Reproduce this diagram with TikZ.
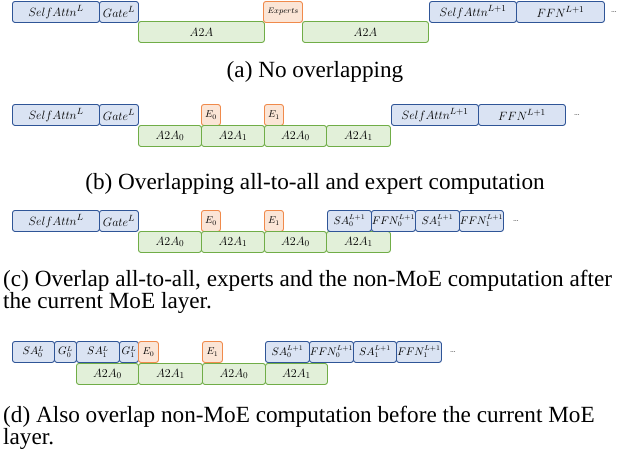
\documentclass[tikz,border=0pt]{standalone}
\usepackage{fontspec}
\newfontfamily\capfont{Liberation Serif}
\definecolor{bluefill}{HTML}{DAE3F3}
\definecolor{blueline}{HTML}{2F5597}
\definecolor{greenfill}{HTML}{E2F0D9}
\definecolor{greenline}{HTML}{70AD47}
\definecolor{orangefill}{HTML}{FBE5D6}
\definecolor{orangeline}{HTML}{F08A4B}

\begin{document}
\begin{tikzpicture}[x=1pt,y=-1pt,
    box/.style={rounded corners=2.5pt, line width=0.9pt, inner sep=0pt, anchor=north west,
        minimum height=21pt, font=\fontsize{12.5}{14}\selectfont},
    attn/.style={box, draw=blueline, fill=bluefill},
    small/.style={font=\fontsize{10.5}{12}\selectfont},
    comm/.style={box, draw=greenline, fill=greenfill},
    expt/.style={box, draw=orangeline, fill=orangefill, font=\fontsize{10}{11}\selectfont},
    more/.style={inner sep=0pt, font=\fontsize{9}{10}\selectfont},
    subcap/.style={inner sep=0pt, font=\capfont\fontsize{23.2}{22}\selectfont}]

    \useasboundingbox (0,0) rectangle (630,458);

    % (a) no overlapping
    \node[attn, minimum width=87pt] (saa) at (12,1) {$SelfAttn^{L}$};
    \node[attn, minimum width=39pt] (gatea) at (99,1) {$Gate^{L}$};
    \node[comm, minimum width=126pt] (disa) at (138,21) {$A2A$};
    \node[expt, minimum width=39pt, font=\fontsize{8.5}{10}\selectfont] (expa) at (263,1) {$Experts$};
    \node[comm, minimum width=126pt] (comba) at (302,21) {$A2A$};
    \node[attn, minimum width=87pt] (sanexta) at (429,1) {$SelfAttn^{L+1}$};
    \node[attn, minimum width=88pt] (ffnnexta) at (516,1) {$FFN^{L+1}$};
    \node[more] (dotsa) at (614,12) {\ldots};
    \node[subcap, anchor=base] (capa) at (315,77) {(a) No overlapping};

    % (b) overlapping all-to-all and experts
    \node[attn, minimum width=87pt] (sab) at (12,104) {$SelfAttn^{L}$};
    \node[attn, minimum width=39pt] (gateb) at (99,104) {$Gate^{L}$};
    \node[expt, minimum width=19pt] (expb0) at (201,104) {$E_{0}$};
    \node[expt, minimum width=19pt] (expb1) at (264,104) {$E_{1}$};
    \node[comm, minimum width=63pt] (disb0) at (138,125) {$A2A_{0}$};
    \node[comm, minimum width=63pt] (disb1) at (201,125) {$A2A_{1}$};
    \node[comm, minimum width=62pt] (combb0) at (264,125) {$A2A_{0}$};
    \node[comm, minimum width=64pt] (combb1) at (326,125) {$A2A_{1}$};
    \node[attn, minimum width=87pt] (sanextb) at (391,104) {$SelfAttn^{L+1}$};
    \node[attn, minimum width=87pt] (ffnnextb) at (478,104) {$FFN^{L+1}$};
    \node[more] (dotsb) at (577,115) {\ldots};
    \node[subcap, anchor=base] (capb) at (315,189) {(b) Overlapping all-to-all and expert computation};

    % (c) overlap with the next layer too
    \node[attn, minimum width=87pt] (sac) at (12,210) {$SelfAttn^{L}$};
    \node[attn, minimum width=39pt] (gatec) at (99,210) {$Gate^{L}$};
    \node[expt, minimum width=19pt] (expc0) at (201,210) {$E_{0}$};
    \node[expt, minimum width=19pt] (expc1) at (264,210) {$E_{1}$};
    \node[comm, minimum width=63pt] (disc0) at (138,231) {$A2A_{0}$};
    \node[comm, minimum width=63pt] (disc1) at (201,231) {$A2A_{1}$};
    \node[comm, minimum width=62pt] (combc0) at (264,231) {$A2A_{0}$};
    \node[comm, minimum width=64pt] (combc1) at (326,231) {$A2A_{1}$};
    \node[attn, small, minimum width=44pt] (sanextc0) at (327,210) {$SA_{0}^{L+1}$};
    \node[attn, small, minimum width=44pt] (ffnnextc0) at (371,210) {$FFN_{0}^{L+1}$};
    \node[attn, small, minimum width=44pt] (sanextc1) at (415,210) {$SA_{1}^{L+1}$};
    \node[attn, small, minimum width=44pt] (ffnnextc1) at (459,210) {$FFN_{1}^{L+1}$};
    \node[more] (dotsc) at (516,221) {\ldots};
    \node[subcap, anchor=base west, align=left] (capc) at (3,308)
        {(c) Overlap all-to-all, experts and the non-MoE computation after\\the current MoE layer.};

    % (d) overlap with the previous layer as well
    \node[attn, small, minimum width=42pt] (sad0) at (12,341) {$SA_{0}^{L}$};
    \node[attn, small, minimum width=22pt] (gated0) at (54,341) {$G_{0}^{L}$};
    \node[attn, small, minimum width=43pt] (sad1) at (76,341) {$SA_{1}^{L}$};
    \node[attn, small, minimum width=19pt] (gated1) at (119,341) {$G_{1}^{L}$};
    \node[expt, minimum width=20pt] (expd0) at (138,341) {$E_{0}$};
    \node[expt, minimum width=20pt] (expd1) at (202,341) {$E_{1}$};
    \node[comm, minimum width=62pt] (disd0) at (76,363) {$A2A_{0}$};
    \node[comm, minimum width=64pt] (disd1) at (138,363) {$A2A_{1}$};
    \node[comm, minimum width=63pt] (combd0) at (202,363) {$A2A_{0}$};
    \node[comm, minimum width=62pt] (combd1) at (265,363) {$A2A_{1}$};
    \node[attn, small, minimum width=44pt] (sanextd0) at (265,341) {$SA_{0}^{L+1}$};
    \node[attn, small, minimum width=44pt] (ffnnextd0) at (309,341) {$FFN_{0}^{L+1}$};
    \node[attn, small, minimum width=43pt] (sanextd1) at (353,341) {$SA_{1}^{L+1}$};
    \node[attn, small, minimum width=45pt] (ffnnextd1) at (396,341) {$FFN_{1}^{L+1}$};
    \node[more] (dotsd) at (453,352) {\ldots};
    \node[subcap, anchor=base west, align=left] (capd) at (3,444)
        {(d) Also overlap non-MoE computation before the current MoE\\layer.};

\end{tikzpicture}
\end{document}
